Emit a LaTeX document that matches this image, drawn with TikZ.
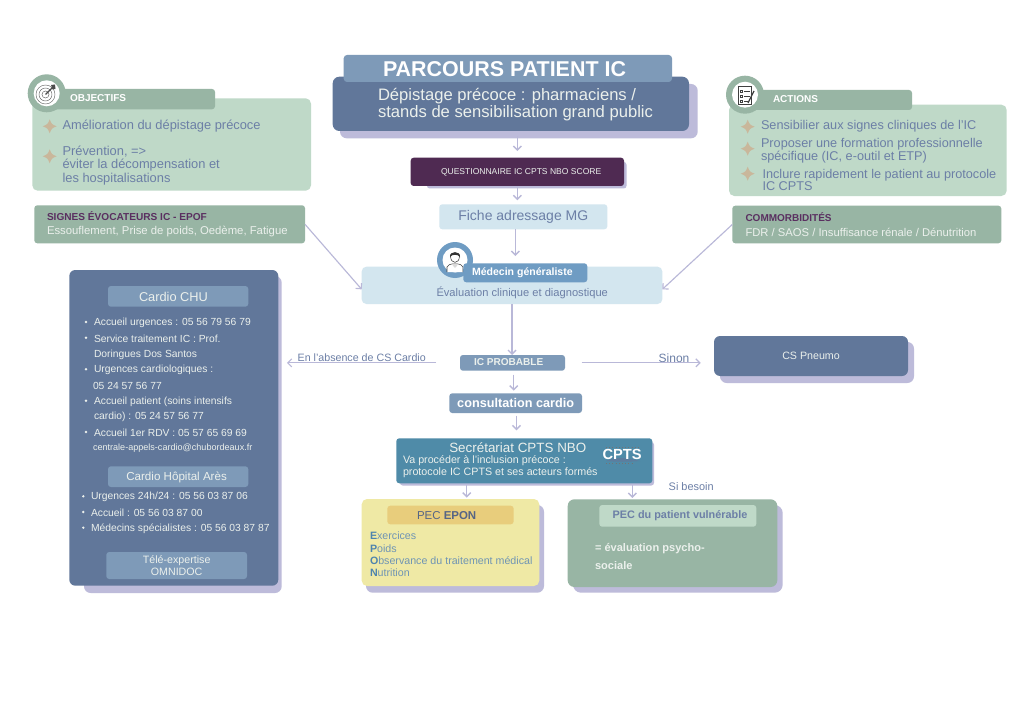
\documentclass[tikz,border=0pt]{standalone}
\usepackage{fontspec}
\setmainfont{Liberation Sans}
\usetikzlibrary{arrows.meta,calc}
\definecolor{slate}{HTML}{61779A}
\definecolor{band}{HTML}{7E9AB8}
\definecolor{shad}{HTML}{BDBBDA}
\definecolor{plum}{HTML}{4F2A52}
\definecolor{plumt}{HTML}{5A2F60}
\definecolor{pale}{HTML}{D3E6EF}
\definecolor{gl}{HTML}{BFD9C8}
\definecolor{gd}{HTML}{98B5A4}
\definecolor{ink}{HTML}{6C7FA6}
\definecolor{teal}{HTML}{4F8BA8}
\definecolor{yel}{HTML}{EFE9A5}
\definecolor{yelb}{HTML}{E8CD7C}
\definecolor{starc}{HTML}{C9B79B}
\definecolor{mgb}{HTML}{6F9CC3}
\definecolor{arrc}{HTML}{B9B8D8}
\definecolor{offw}{HTML}{EBF0EC}
\definecolor{lst}{HTML}{6F94B4}
\definecolor{lsb}{HTML}{4D83AE}
\newcommand\fs[2]{\fontsize{#1}{#2}\selectfont}
\newcommand\boxn[7]{%
  \pgfmathsetmacro\cxn{(#2+#4)/2}\pgfmathsetmacro\cyn{(#3+#5)/2}%
  \pgfmathsetmacro\bwn{(#4-#2)*.75}\pgfmathsetmacro\bhn{(#5-#3)*.75}%
  \node[boxs,#6,minimum width=\bwn pt,minimum height=\bhn pt] (#1) at (\cxn,\cyn) {#7};}
\newcommand\shadn[5][4pt]{\fill[shad,rounded corners=#1] (#2,#3) rectangle (#4,#5);}
\newcommand\tx[5]{\node[txs,#4] (#1) at (#2,#3) {#5};}
\newcommand\starm[2]{\fill[starc] (#1,#2-7) .. controls (#1+2,#2-2) .. (#1+7,#2) .. controls (#1+2,#2+2) .. (#1,#2+7) .. controls (#1-2,#2+2) .. (#1-7,#2) .. controls (#1-2,#2-2) .. (#1,#2-7) -- cycle;}
\tikzset{
  boxs/.style={inner sep=0pt,outer sep=0pt,rounded corners=2.2pt,align=center},
  txs/.style={inner sep=0pt,outer sep=0pt,anchor=west,align=left,yshift=-.75pt},
  arr/.style={draw=arrc,line width=1.05pt,-{Straight Barb[length=3pt,width=6pt]}},
  lin/.style={draw=arrc,line width=.85pt,-{Straight Barb[length=3pt,width=6pt]}},
  bul/.style={fill=offw,circle,inner sep=0pt,minimum size=2pt,yshift=-.75pt},
  crd/.style={txs,text=offw,font=\fs{7.73}{9}},
}
\begin{document}
\begin{tikzpicture}[x=.75pt,y=-.75pt]
\useasboundingbox (0,0) rectangle (1024,706);
\fill[white] (0,0) rectangle (1024,706);
% ---- shadows
\shadn[5pt]{340}{84}{697.7}{138.3}
\shadn[2pt]{427}{162}{626.5}{188.5}
\shadn[5pt]{84}{276}{281.7}{593}
\shadn[5pt]{720}{342}{914}{383}
\shadn[2pt]{400}{442}{654}{485.5}
\shadn[5pt]{366}{505}{544}{592.7}
\shadn[6pt]{573}{505}{782.7}{592.7}
% ---- header
\boxn{main}{332.7}{76.7}{689}{131}{fill=slate,rounded corners=5pt}{}
\boxn{title}{343.7}{55}{672}{82}{fill=band,rounded corners=2.5pt}{}
\tx{titlet}{383}{68.5}{text=white,font=\bfseries\fs{16.08}{18}}{PARCOURS PATIENT IC}
\tx{maint}{378}{103.5}{text=offw,font=\fs{12.45}{13}}{Dépistage précoce : pharmaciens /\\stands de sensibilisation grand public}
\boxn{quest}{410.7}{157.7}{624}{186}{fill=plum}{}
\tx{questt}{441}{171.5}{text=offw,font=\fs{6.4}{8}}{QUESTIONNAIRE IC CPTS NBO SCORE}
\boxn{fiche}{439.3}{204.3}{607.3}{229.3}{fill=pale,text=ink,font=\fs{10.5}{12}}{Fiche adressage MG}
% ---- objectifs
\boxn{obj}{32.3}{98.3}{311}{190.7}{fill=gl,rounded corners=4pt}{}
\boxn{objl}{46}{89}{215}{109.3}{fill=gd}{}
\fill[gd] (46.7,93.3) circle (19);
\fill[white] (46.7,93.3) circle (13);
\draw[gray!80!black,line width=.35pt] (45.5,94.5) circle (9.5) (45.5,94.5) circle (6.5) (45.5,94.5) circle (3.5);
\draw[black!70,line width=.8pt] (45.5,94.5) -- (53,87);
\fill[black!70] (51,85) -- (55,84.5) -- (55.5,89) -- (52.5,89.5) -- cycle;
\tx{objt}{70}{97}{text=white,font=\bfseries\fs{7.5}{9}}{OBJECTIFS}
\starm{49.7}{126.3}\starm{49.7}{156.3}
\tx{o1}{62.5}{125}{text=ink,font=\fs{9.65}{10}}{Amélioration du dépistage précoce}
\tx{o2}{62.5}{164.5}{text=ink,font=\fs{9.65}{9.9}}{Prévention, =>\\éviter la décompensation et\\les hospitalisations}
% ---- signes
\boxn{sign}{34.3}{205.3}{305}{243.3}{fill=gd}{}
\tx{s1}{47}{215}{text=plumt,font=\bfseries\fs{7.58}{9}}{SIGNES ÉVOCATEURS IC - EPOF}
\tx{s2}{47}{231}{text=offw,font=\fs{8.5}{10}}{Essouflement, Prise de poids, Oedème, Fatigue}
% ---- actions
\boxn{act}{729}{104.7}{1006.7}{196}{fill=gl,rounded corners=4pt}{}
\boxn{actl}{745}{90}{912}{110}{fill=gd}{}
\fill[gd] (745,94.7) circle (19);
\fill[white] (745,94.7) circle (13);
\draw[black!75,line width=.5pt] (738,86) rectangle (751,104);
\draw[black!75,line width=.45pt] (740,90) rectangle (742,92) (740,95) rectangle (742,97) (740,100) rectangle (742,102);
\draw[black!75,line width=.45pt] (744,91) -- (750,91) (744,96) -- (750,96) (744,101) -- (748,101);
\draw[black!75,line width=.9pt] (748,103) -- (754,91);
\tx{actt}{773}{98}{text=white,font=\bfseries\fs{7.5}{9}}{ACTIONS}
\starm{747.7}{126.7}\starm{747.7}{148.7}\starm{747.7}{173.7}
\tx{a1}{761}{125.5}{text=ink,font=\fs{9.53}{10}}{Sensibilier aux signes cliniques de l’IC}
\tx{a2}{761}{149.5}{text=ink,font=\fs{9.53}{9.8}}{Proposer une formation professionnelle\\spécifique (IC, e-outil et ETP)}
\tx{a3}{762.5}{179}{text=ink,font=\fs{9.53}{9.6}}{Inclure rapidement le patient au protocole\\IC CPTS}
% ---- commorbidites
\boxn{com}{732.3}{205.7}{1001.3}{243.3}{fill=gd}{}
\tx{c1}{745.5}{216}{text=plumt,font=\bfseries\fs{7.5}{9}}{COMMORBIDITÉS}
\tx{c2}{745.5}{231}{text=offw,font=\fs{8.43}{10}}{FDR / SAOS / Insuffisance rénale / Dénutrition}
% ---- medecin generaliste
\boxn{mg}{361.7}{266.7}{662.3}{304}{fill=pale,rounded corners=3.5pt}{}
\fill[mgb] (455,260) circle (18);
\fill[white] (455,260) circle (12.5);
\draw[black!75,line width=.4pt,fill=white] (447,272) -- (447,267) .. controls (449,264.5) .. (452,264) -- (458,264) .. controls (461,264.5) .. (463,267) -- (463,272);
\fill[white!85!black] (451.5,264) -- (455,268) -- (458.5,264) -- cycle;
\draw[black!75,line width=.4pt,fill=white] (450.5,256) .. controls (450.5,264.5) and (459.5,264.5) .. (459.5,256);
\fill[black!80] (450,257) .. controls (449,250.5) and (461,250.5) .. (460,257) .. controls (458,254) and (452,254) .. (450,257) -- cycle;
\boxn{mgl}{463.3}{263.3}{587.3}{282.3}{fill=mgb}{}
\tx{mgt}{472}{272}{text=white,font=\bfseries\fs{7.9}{9}}{Médecin généraliste}
\tx{mge}{436.5}{291.5}{text=ink,font=\fs{8.35}{10}}{Évaluation clinique et diagnostique}
% ---- cardio panel
\boxn{pan}{69.3}{270}{278.3}{585.7}{fill=slate,rounded corners=4.5pt}{}
\boxn{b1}{108}{286}{248.3}{306.7}{fill=band}{}
\tx{b1t}{139}{296}{text=offw,font=\fs{9.6}{11}}{Cardio CHU}
\boxn{b2}{108}{466.3}{248.3}{487}{fill=band}{}
\tx{b2t}{126.3}{476.5}{text=offw,font=\fs{8.7}{10}}{Cardio Hôpital Arès}
\boxn{b3}{106.3}{552}{247}{579}{fill=band,text=offw,font=\fs{8}{8.7}}{Télé-expertise\\OMNIDOC}
\foreach \n/\y in {p1/321,p2/336.7,p3/368.3,p4/399.7,p5/431}{\node[bul] (\n) at (86,\y) {};}
\foreach \n/\y in {q1/495.3,q2/511,q3/526.7}{\node[bul] (\n) at (83.3,\y) {};}
\tx{l1}{94}{321}{crd}{Accueil urgences : 05 56 79 56 79}
\tx{l2}{94}{336.7}{crd}{Service traitement IC : Prof.}
\tx{l3}{94}{352.7}{crd}{Doringues Dos Santos}
\tx{l4}{94}{368.3}{crd}{Urgences cardiologiques :}
\tx{l5}{93}{384}{crd}{05 24 57 56 77}
\tx{l6}{94}{399.7}{crd}{Accueil patient (soins intensifs}
\tx{l7}{94}{415}{crd}{cardio) : 05 24 57 56 77}
\tx{l8}{94}{431}{crd}{Accueil 1er RDV : 05 57 65 69 69}
\tx{l9}{93}{446}{crd,font=\fs{6.8}{8}}{centrale-appels-cardio@chubordeaux.fr}
\tx{h1}{91}{495.3}{crd}{Urgences 24h/24 : 05 56 03 87 06}
\tx{h2}{91}{511}{crd}{Accueil : 05 56 03 87 00}
\tx{h3}{91}{526.7}{crd}{Médecins spécialistes : 05 56 03 87 87}
% ---- centre
\boxn{prob}{460}{355}{565}{370.7}{fill=band}{}
\tx{probt}{474}{361}{text=offw,font=\bfseries\fs{7.55}{9}}{IC PROBABLE}
\boxn{cons}{449.3}{393.3}{582}{413}{fill=band,text=white,font=\bfseries\fs{9.5}{11}}{consultation cardio}
\boxn{sec}{396.3}{438.3}{652.3}{483.3}{fill=teal}{}
\tx{sec1}{449.3}{447}{text=offw,font=\fs{10.05}{12}}{Secrétariat CPTS NBO}
\tx{sec2}{403}{465.7}{text=offw,font=\fs{8.03}{8.5}}{Va procéder à l’inclusion précoce :\\protocole IC CPTS et ses acteurs formés}
\fill[slate!70!teal] (606,461) .. controls (616,456) and (628,458) .. (640,461) .. controls (628,462) and (616,462) .. (606,461) -- cycle;
\draw[black!55,line width=.4pt,dotted] (606,447) -- (640,447) (606,463.5) -- (634,463.5);
\tx{cpts}{602.5}{453.5}{text=white,font=\bfseries\fs{11}{12}}{CPTS}
\boxn{pneu}{714}{336}{908}{376}{fill=slate,rounded corners=4.5pt,text=offw,font=\fs{8}{10}}{CS Pneumo}
\boxn{epon}{361.7}{499}{539.3}{586}{fill=yel,rounded corners=4pt}{}
\boxn{eponb}{387.3}{505.7}{513.7}{524.3}{fill=yelb}{}
\tx{epont}{417}{514.5}{text=ink!80!black,font=\fs{8.6}{10}}{PEC \textbf{EPON}}
\tx{e1}{370}{535}{text=lst,font=\fs{8}{9}}{\textcolor{lsb}{\bfseries E}xercices}
\tx{e2}{370}{547.3}{text=lst,font=\fs{8}{9}}{\textcolor{lsb}{\bfseries P}oids}
\tx{e3}{370}{559.3}{text=lst,font=\fs{8}{9}}{\textcolor{lsb}{\bfseries O}bservance du traitement médical}
\tx{e4}{370}{571.3}{text=lst,font=\fs{8}{9}}{\textcolor{lsb}{\bfseries N}utrition}
\boxn{vul}{567.7}{499.3}{777.3}{587}{fill=gd,rounded corners=5pt}{}
\boxn{vulb}{599.3}{505}{756.3}{526.7}{fill=gl}{}
\tx{vult}{612.7}{515}{text=ink,font=\bfseries\fs{8.15}{10}}{PEC du patient vulnérable}
\tx{v1}{595}{547.7}{text=offw,font=\bfseries\fs{8.3}{10}}{= évaluation psycho-}
\tx{v2}{595}{564.7}{text=offw,font=\bfseries\fs{8.3}{10}}{sociale}
% ---- labels
\tx{labl}{297.7}{357}{text=ink,font=\fs{8}{10}}{En l'absence de CS Cardio}
\tx{labr}{658.7}{357}{text=ink,font=\fs{9}{10}}{Sinon}
\tx{labb}{668.7}{485.7}{text=ink,font=\fs{8.2}{10}}{Si besoin}
% ---- connectors
\draw[arr,shorten <=4pt,shorten >=5pt] (main.south -| quest.north) -- (quest.north);
\draw[arr,shorten >=3pt] (quest.south) -- (quest.south |- fiche.north);
\draw[arr,shorten >=8pt] ([xshift=-6pt]fiche.south) -- ([xshift=-6pt]fiche.south |- mg.north);
\draw[arr] (mg.south) -- (mg.south |- prob.north);
\draw[arr,shorten <=3pt,shorten >=2pt] ([xshift=.9pt]prob.south) -- ([xshift=.9pt]prob.south |- cons.north);
\draw[arr,shorten <=2pt,shorten >=6pt] ([xshift=.6pt]cons.south) -- ([xshift=.6pt]cons.south |- sec.north);
\draw[arr,shorten <=1pt,shorten >=1pt] ([xshift=-43.2pt]sec.south) -- ([xshift=-43.2pt]sec.south |- epon.north);
\draw[arr,shorten <=1pt,shorten >=1pt] ([xshift=81pt]sec.south) -- ([xshift=81pt]sec.south |- vul.north);
\draw[lin,shorten <=18pt,shorten >=6.5pt] (prob.west) -- (prob.west -| pan.east);
\draw[lin,shorten <=12.5pt,shorten >=10pt] (prob.east) -- (prob.east -| pneu.west);
\draw[lin] (sign.east) -- ([yshift=-3pt]mg.west);
\draw[lin] (com.west) -- ([yshift=-3pt]mg.east);
\end{tikzpicture}
\end{document}
